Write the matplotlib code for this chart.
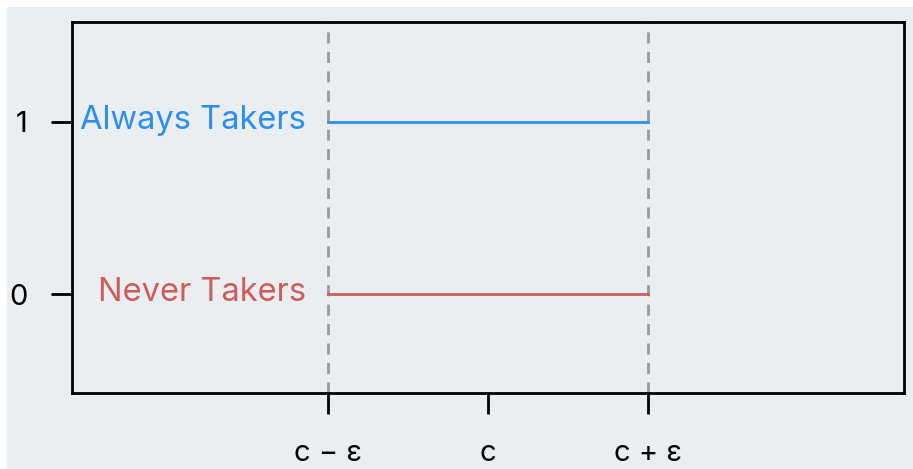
import matplotlib.pyplot as plt
from matplotlib.patches import Rectangle

# x positions: c - eps, c, c + eps
x_ticks = [-1, 0, 1]
x_labels = ["c \u2212 \u03b5", "c", "c + \u03b5"]
y_ticks = [0, 1]
y_labels = ["0", "1"]

groups = ["Always Takers", "Never Takers"]
group_y = [1, 0]
group_x0 = [-1, -1]
group_x1 = [1, 1]
group_colors = ["#2B8FEF", "#CD5C5C"]

cutoffs = [-1, 1]

bg = "#EBEEF0"
plt.rcParams['font.family'] = ['Inter', 'DejaVu Sans']

fig = plt.figure(figsize=(9.13, 4.69), dpi=100)
fig.patch.set_facecolor("white")
fig.patches.append(Rectangle((7 / 913, 0), 1, 1 - 7 / 469, transform=fig.transFigure,
                             facecolor=bg, edgecolor="none", zorder=-10))

ax = fig.add_axes([72 / 913, 76 / 469, 832 / 913, 371 / 469])
ax.set_facecolor(bg)

for xc in cutoffs:
    ax.axvline(xc, color="#9A9A9A", lw=2, ls=(0, (4, 3)), zorder=1)

for name, y, x0, x1, col in zip(groups, group_y, group_x0, group_x1, group_colors):
    ax.plot([x0, x1], [y, y], color=col, lw=2, zorder=2)
    ax.annotate(name, xy=(x0, y), xytext=(-16, 1), textcoords="offset points",
                ha="right", va="center", color=col, fontsize=23.5, zorder=3)

ax.set_xlim(-2.6, 2.6)
ax.set_ylim(-0.575, 1.58)
ax.set_xticks(x_ticks)
ax.set_xticklabels(x_labels)
ax.set_yticks(y_ticks)
ax.set_yticklabels(y_labels)

for s in ax.spines.values():
    s.set_linewidth(2)
ax.tick_params(axis="both", length=15, width=2, labelsize=21, colors="black")
ax.tick_params(axis="x", pad=19)
ax.tick_params(axis="y", pad=17)

fig.savefig("out.png", dpi=100, facecolor="white")
